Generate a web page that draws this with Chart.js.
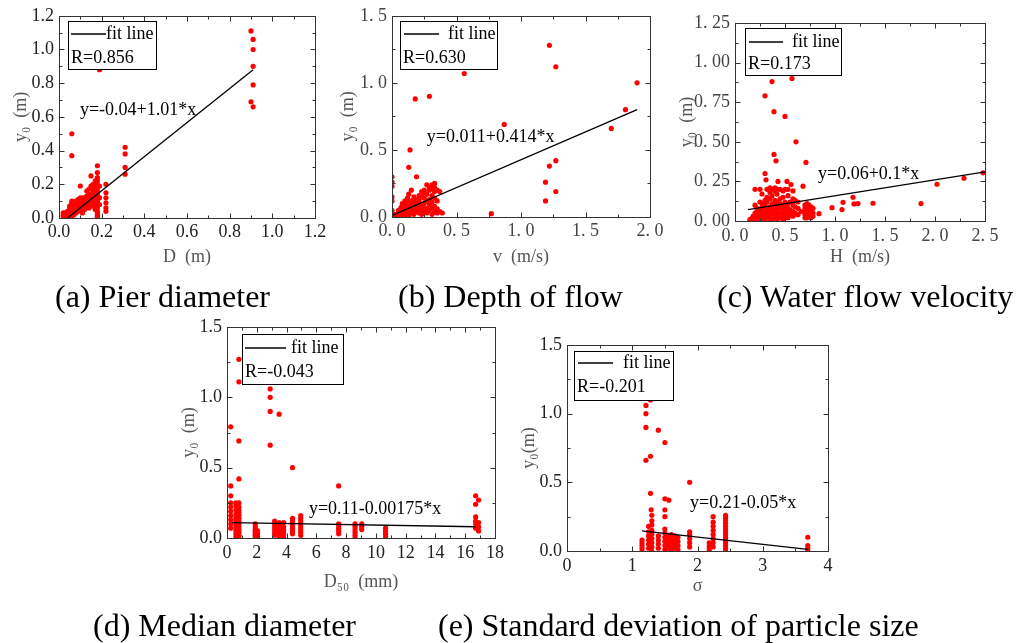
<!DOCTYPE html>
<html>
<head>
<meta charset="utf-8">
<script src="https://cdn.jsdelivr.net/npm/chart.js@4"></script>
<style>
  body { margin: 0; background: #fff; width: 1024px; height: 643px; position: relative; overflow: hidden; font-family: "Liberation Serif", serif; }
  canvas { position: absolute; }
  .cap { position: absolute; font-size: 32px; line-height: 1; white-space: nowrap; color: #000; }
</style>
</head>
<body>
<canvas id="ca"></canvas>
<canvas id="cb"></canvas>
<canvas id="cc"></canvas>
<canvas id="cd"></canvas>
<canvas id="ce"></canvas>
<div class="cap" style="left:55px;top:280px">(a) Pier diameter</div>
<div class="cap" style="left:398px;top:280px">(b) Depth of flow</div>
<div class="cap" style="left:717px;top:280px">(c) Water flow velocity</div>
<div class="cap" style="left:93px;top:609px">(d) Median diameter</div>
<div class="cap" style="left:438px;top:609px">(e) Standard deviation of particle size</div>
<script>
// (a) pier diameter D (m) vs scour depth y0 (m)
const pierData = [
  [0.02,0.01],[0.02,0.03],[0.02,0.02],[0.03,0.02],[0.03,0.03],[0.03,0.01],[0.04,0.01],[0.04,0.03],[0.04,0.04],[0.04,0.02],
  [0.05,0.0],[0.05,0.02],[0.05,0.04],[0.05,0.06],[0.05,0.07],
  [0.06,0.01],[0.06,0.03],[0.06,0.05],[0.06,0.08],[0.06,0.1],[0.06,0.09],[0.06,0.37],[0.06,0.5],
  [0.07,0.02],[0.07,0.04],[0.07,0.06],[0.07,0.08],
  [0.08,0.03],[0.08,0.05],[0.08,0.07],[0.08,0.09],[0.08,0.1],
  [0.09,0.04],[0.09,0.06],[0.09,0.08],[0.09,0.11],
  [0.1,0.05],[0.1,0.08],[0.1,0.1],[0.1,0.12],[0.1,0.19],
  [0.11,0.03],[0.11,0.06],[0.11,0.09],[0.11,0.11],[0.11,0.12],
  [0.12,0.05],[0.12,0.07],[0.12,0.1],[0.12,0.12],
  [0.13,0.08],[0.13,0.1],[0.13,0.13],[0.13,0.16],
  [0.14,0.06],[0.14,0.09],[0.14,0.12],[0.14,0.14],[0.14,0.17],
  [0.15,0.08],[0.15,0.11],[0.15,0.14],[0.15,0.19],[0.15,0.25],
  [0.16,0.07],[0.16,0.1],[0.16,0.13],[0.16,0.16],[0.16,0.18],[0.16,0.2],
  [0.17,0.05],[0.17,0.09],[0.17,0.12],[0.17,0.15],[0.17,0.19],[0.17,0.22],
  [0.18,0.0],[0.18,0.01],[0.18,0.02],[0.18,0.03],[0.18,0.04],[0.18,0.06],[0.18,0.08],[0.18,0.1],[0.18,0.12],
  [0.18,0.14],[0.18,0.16],[0.18,0.18],[0.18,0.2],[0.18,0.22],[0.18,0.24],[0.18,0.27],[0.18,0.31],
  [0.19,0.08],[0.19,0.12],[0.19,0.19],[0.19,0.88],
  [0.22,0.04],[0.22,0.06],[0.22,0.09],[0.22,0.12],[0.22,0.15],[0.22,0.2],
  [0.31,0.26],[0.31,0.3],[0.31,0.38],[0.31,0.42],
  [0.9,1.11],[0.91,1.06],[0.91,1.0],[0.91,0.9],[0.91,0.79],[0.9,0.69],[0.91,0.66]
];
const pierFit = [[0.04,0],[0.91,0.88]];

// (b) v (m/s) vs y0 (m)
const flowData = [
  [0,0.3],[0,0.26],[0,0.23],[0,0.15],[0,0.12],[0,0.05],[0.02,0.02],[0.02,0.0],
  [0.05,0.0],[0.05,0.03],[0.05,0.05],[0.07,0.01],[0.07,0.04],[0.07,0.07],
  [0.08,0.02],[0.08,0.06],[0.08,0.08],[0.08,0.1],
  [0.1,0.0],[0.1,0.03],[0.1,0.06],[0.1,0.09],[0.1,0.12],
  [0.12,0.02],[0.12,0.05],[0.12,0.08],[0.12,0.11],[0.12,0.14],
  [0.13,0.01],[0.13,0.04],[0.13,0.07],[0.13,0.1],[0.13,0.17],[0.13,0.37],[0.14,0.5],
  [0.15,0.03],[0.15,0.06],[0.15,0.09],[0.15,0.12],[0.15,0.2],
  [0.17,0.02],[0.17,0.05],[0.17,0.08],[0.17,0.11],[0.17,0.15],[0.18,0.88],[0.19,0.3],
  [0.19,0.04],[0.19,0.07],[0.19,0.1],[0.19,0.13],
  [0.21,0.03],[0.21,0.06],[0.21,0.09],[0.21,0.12],[0.21,0.16],
  [0.23,0.02],[0.23,0.05],[0.23,0.08],[0.23,0.15],[0.23,0.19],
  [0.25,0.04],[0.25,0.07],[0.25,0.1],[0.25,0.14],[0.25,0.18],[0.25,0.2],
  [0.27,0.03],[0.27,0.06],[0.27,0.12],[0.27,0.17],[0.27,0.24],
  [0.29,0.05],[0.29,0.09],[0.29,0.13],[0.29,0.2],[0.29,0.22],[0.29,0.9],
  [0.31,0.02],[0.31,0.07],[0.31,0.11],[0.31,0.16],[0.31,0.21],[0.31,0.24],
  [0.33,0.04],[0.33,0.08],[0.33,0.14],[0.33,0.19],[0.33,0.25],[0.33,0.22],
  [0.35,0.03],[0.35,0.06],[0.35,0.12],[0.35,0.2],[0.37,0.04],[0.37,0.19],[0.39,0.03],
  [0.56,1.07],[0.77,0.025],[0.87,0.69],
  [1.19,0.26],[1.19,0.12],[1.22,1.28],[1.22,0.38],[1.27,1.12],[1.27,0.42],[1.27,0.19],
  [1.7,0.66],[1.81,0.8],[1.9,1.0]
];
const flowFit = [[0,0.011],[1.9,0.8]];

// (c) H (m/s) vs y0 (m)
const velocityData = [
  [0.15,0.0],[0.15,0.01],[0.18,0.0],[0.18,0.02],[0.18,0.03],
  [0.2,0.01],[0.2,0.03],[0.2,0.05],[0.2,0.1],[0.2,0.2],
  [0.22,0.0],[0.22,0.02],[0.22,0.04],[0.22,0.06],[0.22,0.08],
  [0.25,0.01],[0.25,0.03],[0.25,0.05],[0.25,0.07],[0.25,0.12],[0.25,0.2],
  [0.27,0.0],[0.27,0.02],[0.27,0.04],[0.27,0.06],[0.27,0.09],[0.27,0.11],[0.27,0.17],
  [0.3,0.01],[0.3,0.03],[0.3,0.05],[0.3,0.08],[0.3,0.1],[0.3,0.13],[0.3,0.3],[0.3,0.79],[0.31,0.26],
  [0.32,0.02],[0.32,0.04],[0.32,0.07],[0.32,0.12],[0.32,0.15],[0.32,0.2],
  [0.35,0.0],[0.35,0.03],[0.35,0.06],[0.35,0.09],[0.35,0.14],[0.35,0.18],[0.35,0.21],
  [0.37,0.01],[0.37,0.05],[0.37,0.08],[0.37,0.11],[0.37,0.16],[0.37,0.2],[0.37,0.88],
  [0.39,0.69],[0.39,0.42],[0.41,0.38],
  [0.4,0.02],[0.4,0.04],[0.4,0.07],[0.4,0.1],[0.4,0.13],[0.4,0.19],[0.4,0.21],
  [0.42,0.01],[0.42,0.03],[0.42,0.06],[0.42,0.09],[0.42,0.12],[0.42,0.17],[0.42,0.2],[0.43,0.25],
  [0.45,0.02],[0.45,0.05],[0.45,0.08],[0.45,0.11],[0.45,0.14],[0.45,0.2],
  [0.48,0.01],[0.48,0.04],[0.48,0.07],[0.48,0.1],[0.48,0.15],[0.48,0.19],
  [0.5,0.03],[0.5,0.06],[0.5,0.09],[0.5,0.12],[0.5,0.2],[0.5,0.66],[0.52,0.25],
  [0.53,0.02],[0.53,0.05],[0.53,0.08],[0.53,0.11],[0.53,0.16],[0.53,0.2],
  [0.55,0.04],[0.55,0.07],[0.55,0.12],[0.56,0.23],[0.57,0.9],
  [0.58,0.03],[0.58,0.06],[0.58,0.1],[0.58,0.14],[0.58,0.19],
  [0.6,0.05],[0.6,0.09],[0.6,0.13],[0.61,0.5],[0.63,0.04],[0.63,0.08],[0.63,0.12],
  [0.66,0.06],[0.68,0.22],[0.71,0.37],
  [0.7,0.02],[0.7,0.04],[0.7,0.06],[0.7,0.08],[0.7,0.1],
  [0.72,0.02],[0.72,0.03],[0.72,0.05],[0.72,0.07],[0.72,0.09],[0.72,0.11],
  [0.74,0.03],[0.74,0.04],[0.74,0.06],[0.74,0.08],[0.74,0.1],
  [0.76,0.02],[0.76,0.05],[0.76,0.07],[0.76,0.09],[0.78,0.03],[0.78,0.05],[0.78,0.08],
  [0.84,0.046],[0.97,0.084],[1.07,0.072],[1.08,0.118],[1.18,0.15],[1.19,0.108],[1.23,0.11],
  [1.38,0.112],[1.86,0.11],[2.02,0.232],[2.29,0.27],[2.48,0.304]
];
const velocityFit = [[0.13,0.072],[2.5,0.31]];

// (d) D50 (mm) vs y0 (m)
const d50Data = [
  [0.25,0.07],[0.25,0.1],[0.25,0.13],[0.25,0.16],[0.25,0.19],[0.25,0.22],[0.25,0.25],[0.25,0.3],[0.25,0.37],[0.25,0.79],
  [0.6,0.01],[0.6,0.03],[0.6,0.05],[0.6,0.07],[0.6,0.09],[0.6,0.11],[0.6,0.13],[0.6,0.15],[0.6,0.17],[0.6,0.2],[0.6,0.23],[0.6,0.25],
  [0.8,0.0],[0.8,0.02],[0.8,0.04],[0.8,0.06],[0.8,0.08],[0.8,0.1],[0.8,0.12],[0.8,0.14],[0.8,0.16],[0.8,0.18],[0.8,0.2],
  [0.8,0.22],[0.8,0.25],[0.8,0.42],[0.8,0.69],[0.8,1.11],[0.8,1.27],
  [1.9,0.0],[1.9,0.01],[1.9,0.02],[1.9,0.03],[1.9,0.04],[1.9,0.05],[1.9,0.06],[1.9,0.08],[1.9,0.1],
  [2.05,0.01],[2.05,0.03],[2.05,0.05],
  [2.9,1.06],[2.9,1.0],[2.9,0.9],[2.9,0.66],[3.5,0.88],
  [3.2,0.02],[3.2,0.04],[3.2,0.06],[3.2,0.08],[3.2,0.1],[3.2,0.12],
  [3.5,0.01],[3.5,0.03],[3.5,0.05],[3.5,0.07],[3.5,0.09],[3.5,0.11],
  [3.8,0.0],[3.8,0.02],[3.8,0.04],[3.8,0.06],[3.8,0.08],[3.8,0.11],
  [4.4,0.03],[4.4,0.05],[4.4,0.07],[4.4,0.09],[4.4,0.11],[4.4,0.13],[4.4,0.14],[4.4,0.5],
  [4.95,0.02],[4.95,0.04],[4.95,0.06],[4.95,0.08],[4.95,0.1],[4.95,0.12],[4.95,0.14],[4.95,0.16],
  [7.5,0.03],[7.5,0.05],[7.5,0.07],[7.5,0.09],[7.5,0.1],[7.5,0.37],
  [8.6,0.0],[8.6,0.02],[8.6,0.04],[8.6,0.06],[8.6,0.08],[8.6,0.1],
  [9.05,0.06],[9.05,0.08],[9.05,0.1],
  [10.65,0.01],[10.65,0.03],[10.65,0.05],[10.65,0.07],
  [16.7,0.07],[16.7,0.1],[16.7,0.12],[16.7,0.15],[16.7,0.24],[16.7,0.3],
  [16.9,0.05],[16.9,0.08],[16.9,0.11],[16.9,0.27]
];
const d50Fit = [[0.36,0.11],[16.7,0.08]];

// (e) sigma vs y0 (m)
const sigmaData = [
  [1.15,0.0],[1.15,0.02],[1.15,0.04],[1.15,0.06],[1.15,0.08],
  [1.21,1.06],[1.21,1.0],[1.21,0.9],[1.21,0.66],[1.28,1.1],[1.28,0.69],[1.28,0.42],[1.29,0.3],
  [1.25,0.02],[1.25,0.05],[1.25,0.08],[1.25,0.11],[1.25,0.14],[1.25,0.18],
  [1.3,0.0],[1.3,0.03],[1.3,0.06],[1.3,0.09],[1.3,0.12],[1.3,0.15],[1.3,0.19],[1.3,0.22],[1.3,0.26],
  [1.4,0.02],[1.4,0.05],[1.4,0.08],[1.4,0.11],[1.4,0.88],
  [1.5,0.01],[1.5,0.04],[1.5,0.07],[1.5,0.1],[1.5,0.13],[1.5,0.16],[1.5,0.25],[1.5,0.3],[1.5,0.38],[1.5,0.79],
  [1.55,0.02],[1.55,0.05],[1.55,0.08],[1.55,0.11],[1.56,0.37],
  [1.6,0.0],[1.6,0.03],[1.6,0.06],[1.6,0.09],[1.6,0.12],
  [1.65,0.02],[1.65,0.05],[1.65,0.08],[1.65,0.11],
  [1.7,0.01],[1.7,0.04],[1.7,0.07],[1.7,0.1],
  [1.88,0.03],[1.88,0.06],[1.88,0.09],[1.88,0.12],[1.88,0.14],[1.88,0.5],
  [2.18,0.0],[2.18,0.02],[2.18,0.04],[2.18,0.06],
  [2.24,0.03],[2.24,0.06],[2.24,0.09],[2.24,0.12],[2.24,0.15],[2.24,0.18],[2.24,0.21],[2.24,0.25],
  [2.43,0.0],[2.43,0.02],[2.43,0.04],[2.43,0.06],[2.43,0.08],[2.43,0.1],[2.43,0.12],[2.43,0.14],
  [2.43,0.16],[2.43,0.18],[2.43,0.2],[2.43,0.22],[2.43,0.24],[2.43,0.26],
  [3.69,0.0],[3.69,0.02],[3.69,0.04],[3.69,0.1]
];
const sigmaFit = [[1.15,0.146],[3.69,0.012]];

const rLabels = ['R=0.856', 'R=0.630', 'R=0.173', 'R=-0.043', 'R=-0.201'];
const equations = ['y=-0.04+1.01*x', 'y=0.011+0.414*x', 'y=0.06+0.1*x', 'y=0.11-0.00175*x', 'y=0.21-0.05*x'];
const xTitles = ['D  (m)', 'v  (m/s)', 'H  (m/s)', 'D\u2085\u2080  (mm)', '\u03c3'];
const yTitles = ['y\u2080  (m)', 'y\u2080  (m)', 'y\u2080  (m)', 'y\u2080  (m)', 'y\u2080(m)'];

const SERIF = '"Liberation Serif", "Times New Roman", serif';
const plain = d => v => v.toFixed(d);
const spaced = d => v => v.toFixed(d).replace('.', '. ');

// layout of each panel: canvas box and plot area in page pixels
const panels = [
  { id: 'ca', data: pierData, fit: pierFit, box: [0, 0, 333, 280], area: [59, 15, 315, 218], xh: 54, xPad: 3, yTitlePad: 10,
    x: { min: 0, max: 1.2, step: 0.2, fmt: plain(1) }, y: { min: 0, max: 1.2, step: 0.2, fmt: plain(1) },
    tickColor: '#222', eqAt: [0.098, 0.64],
    legend: { x: 9, y: 5, w: 88, h: 48, l1: 3, l2: 38, ly: 13, tx: 38, ry: 37 } },
  { id: 'cb', data: flowData, fit: flowFit, box: [335, 0, 340, 280], area: [392, 15, 650, 217], xh: 55, xPad: 3, yTitlePad: 2,
    x: { min: 0, max: 2, step: 0.5, fmt: spaced(1) }, y: { min: 0, max: 1.5, step: 0.5, fmt: spaced(1) },
    tickColor: '#444', eqAt: [0.27, 0.594],
    legend: { x: 8, y: 5, w: 97, h: 48, l1: 4, l2: 39, ly: 13, tx: 48, ry: 37 } },
  { id: 'cc', data: velocityData, fit: velocityFit, box: [675, 0, 349, 280], area: [735, 23, 985, 221], xh: 51, xPad: 4, yTitlePad: 1,
    x: { min: 0, max: 2.5, step: 0.5, fmt: spaced(1) }, y: { min: 0, max: 1.25, step: 0.25, fmt: spaced(2) },
    tickColor: '#444', eqAt: [0.83, 0.297],
    legend: { x: 10, y: 5, w: 96, h: 47, l1: 4, l2: 38, ly: 14, tx: 47, ry: 36 } },
  { id: 'cd', data: d50Data, fit: d50Fit, box: [165, 310, 350, 300], area: [227, 327, 495, 538], xh: 59, xPad: 4, yTitlePad: 13,
    x: { min: 0, max: 18, step: 2, fmt: plain(0) }, y: { min: 0, max: 1.5, step: 0.5, fmt: plain(1) },
    tickColor: '#222', eqAt: [5.5, 0.206],
    legend: { x: 15, y: 7, w: 101, h: 50, l1: 3, l2: 44, ly: 14, tx: 49, ry: 38 } },
  { id: 'ce', data: sigmaData, fit: sigmaFit, box: [505, 310, 340, 300], area: [567, 345, 828, 551], xh: 50, xPad: 4, yTitlePad: 13,
    x: { min: 0, max: 4, step: 1, fmt: plain(0) }, y: { min: 0, max: 1.5, step: 0.5, fmt: plain(1) },
    tickColor: '#222', eqAt: [1.885, 0.35],
    legend: { x: 7, y: 6, w: 99, h: 49, l1: 4, l2: 39, ly: 12, tx: 49, ry: 36 } }
];

// frame, inward ticks on all four sides, legend box and equation text
function decor(p, idx) {
  return {
    id: 'decor' + idx,
    afterDatasetsDraw(chart) {
      const ctx = chart.ctx, a = chart.chartArea, sx = chart.scales.x, sy = chart.scales.y;
      ctx.save();
      ctx.strokeStyle = '#333';
      ctx.lineWidth = 1;
      const l = Math.round(a.left) + 0.5, t = Math.round(a.top) + 0.5;
      const r = Math.round(a.right) + 0.5, b = Math.round(a.bottom) + 0.5;
      ctx.strokeRect(l, t, r - l, b - t);
      ctx.beginPath();
      const nx = Math.round((p.x.max - p.x.min) / (p.x.step / 2));
      for (let i = 0; i <= nx; i++) {
        const px = Math.round(sx.getPixelForValue(p.x.min + i * p.x.step / 2)) + 0.5;
        const len = i % 2 === 0 ? 5 : 3;
        ctx.moveTo(px, b); ctx.lineTo(px, b - len);
        ctx.moveTo(px, t); ctx.lineTo(px, t + len);
      }
      const ny = Math.round((p.y.max - p.y.min) / (p.y.step / 2));
      for (let i = 0; i <= ny; i++) {
        const py = Math.round(sy.getPixelForValue(p.y.min + i * p.y.step / 2)) + 0.5;
        const len = i % 2 === 0 ? 5 : 3;
        ctx.moveTo(l, py); ctx.lineTo(l + len, py);
        ctx.moveTo(r, py); ctx.lineTo(r - len, py);
      }
      ctx.stroke();

      // legend box
      const L = p.legend;
      const bx = Math.round(a.left + L.x), by = Math.round(a.top + L.y);
      ctx.fillStyle = '#fff';
      ctx.fillRect(bx, by, L.w, L.h);
      ctx.strokeStyle = '#000';
      ctx.strokeRect(bx + 0.5, by + 0.5, L.w, L.h);
      ctx.beginPath();
      ctx.lineWidth = 1.3;
      ctx.moveTo(bx + L.l1, by + L.ly);
      ctx.lineTo(bx + L.l2, by + L.ly);
      ctx.stroke();
      ctx.font = '18px ' + SERIF;
      ctx.fillStyle = '#000';
      ctx.textBaseline = 'middle';
      ctx.textAlign = 'left';
      ctx.fillText('fit line', bx + L.tx, by + L.ly);
      ctx.fillText(rLabels[idx], bx + 3, by + L.ry);

      // fitted equation
      ctx.fillText(equations[idx], sx.getPixelForValue(p.eqAt[0]), sy.getPixelForValue(p.eqAt[1]));
      ctx.restore();
    }
  };
}

panels.forEach((p, idx) => {
  const cv = document.getElementById(p.id);
  const [L, T, W, H] = p.box;
  const [aL, aT, aR, aB] = p.area;
  cv.width = W; cv.height = H;
  cv.style.left = L + 'px'; cv.style.top = T + 'px';
  const yw = aL - L;

  new Chart(cv, {
    type: 'scatter',
    data: {
      datasets: [
        {
          data: p.fit.map(d => ({ x: d[0], y: d[1] })),
          showLine: true,
          borderColor: '#000',
          borderWidth: 1.3,
          pointRadius: 0
        },
        {
          data: p.data.map(d => ({ x: d[0], y: d[1] })),
          pointRadius: 2.6,
          pointBorderWidth: 0,
          backgroundColor: '#ff0000',
          borderColor: '#ff0000'
        }
      ]
    },
    options: {
      responsive: false,
      animation: false,
      layout: { padding: { left: 0, top: aT - T, right: L + W - aR, bottom: T + H - aB - p.xh } },
      plugins: { legend: { display: false }, tooltip: { enabled: false } },
      scales: {
        x: {
          type: 'linear', min: p.x.min, max: p.x.max,
          grid: { display: false, drawTicks: false },
          border: { display: false },
          ticks: { stepSize: p.x.step, autoSkip: false, maxRotation: 0, padding: p.xPad,
                   color: p.tickColor, font: { family: SERIF, size: 18 }, callback: v => p.x.fmt(v) },
          title: { display: true, text: xTitles[idx], color: '#555', font: { family: SERIF, size: 18 },
                   padding: { top: 0, bottom: 4 } },
          afterFit: s => { s.height = p.xh; }
        },
        y: {
          type: 'linear', min: p.y.min, max: p.y.max,
          grid: { display: false, drawTicks: false },
          border: { display: false },
          ticks: { stepSize: p.y.step, autoSkip: false, padding: 5,
                   color: p.tickColor, font: { family: SERIF, size: 18 }, callback: v => p.y.fmt(v) },
          title: { display: true, text: yTitles[idx], color: '#555', font: { family: SERIF, size: 18 },
                   padding: { top: p.yTitlePad, bottom: 0 } },
          afterFit: s => { s.width = yw; }
        }
      }
    },
    plugins: [decor(p, idx)]
  });
});
</script>
</body>
</html>
